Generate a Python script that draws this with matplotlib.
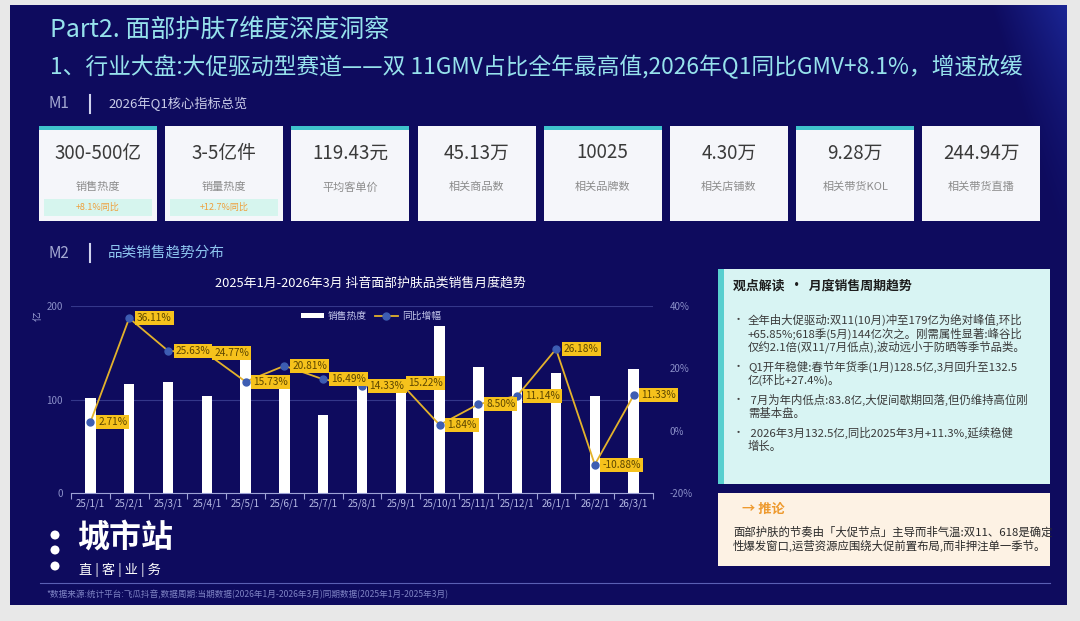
import numpy as np
import matplotlib
matplotlib.use("Agg")
import matplotlib.pyplot as plt
from matplotlib.patches import Rectangle, Circle, Patch
from matplotlib.lines import Line2D

plt.rcParams['font.family'] = ['Noto Sans CJK SC', 'DejaVu Sans']
plt.rcParams['axes.unicode_minus'] = False

# 数据
months = ["25/1/1", "25/2/1", "25/3/1", "25/4/1", "25/5/1", "25/6/1", "25/7/1", "25/8/1",
          "25/9/1", "25/10/1", "25/11/1", "25/12/1", "26/1/1", "26/2/1", "26/3/1"]
sales = [102, 117, 119, 104, 144, 121, 83.8, 116, 108, 179, 135, 124, 128.5, 104, 132.5]
yoy = [2.71, 36.11, 25.63, 24.77, 15.73, 20.81, 16.49, 14.33, 15.22, 1.84, 8.50, 11.14,
       26.18, -10.88, 11.33]

card_values = ["300-500亿", "3-5亿件", "119.43元", "45.13万", "10025", "4.30万", "9.28万", "244.94万"]
card_labels = ["销售热度", "销量热度", "平均客单价", "相关商品数", "相关品牌数", "相关店铺数",
               "相关带货KOL", "相关带货直播"]
card_badges = ["+8.1%同比", "+12.7%同比", None, None, None, None, None, None]

bullets = [
    ["全年由大促驱动:双11(10月)冲至179亿为绝对峰值,环比",
     "+65.85%;618季(5月)144亿次之。刚需属性显著:峰谷比",
     "仅约2.1倍(双11/7月低点),波动远小于防晒等季节品类。"],
    ["Q1开年稳健:春节年货季(1月)128.5亿,3月回升至132.5",
     "亿(环比+27.4%)。"],
    [" 7月为年内低点:83.8亿,大促间歇期回落,但仍维持高位刚",
     "需基本盘。"],
    [" 2026年3月132.5亿,同比2025年3月+11.3%,延续稳健",
     "增长。"],
]
conclusion = ["面部护肤的节奏由「大促节点」主导而非气温:双11、618是确定",
              "性爆发窗口,运营资源应围绕大促前置布局,而非押注单一季节。"]

W, H = 1080, 621
CYAN = '#96E2EC'
LAV = '#9DA2D6'

fig = plt.figure(figsize=(W / 100, H / 100), dpi=100, facecolor='#E8E8E8')

# 背景层(像素坐标)
bg = fig.add_axes([0, 0, 1, 1])
bg.set_xlim(0, W)
bg.set_ylim(H, 0)
bg.axis('off')

sx0, sx1, sy0, sy1 = 10, 1067, 5, 605
yy, xx = np.mgrid[sy0:sy1, sx0:sx1]
edge = 990 + 0.3 * (yy - sy0)
t = np.clip((xx - edge) / 90, 0, 1) * np.clip(1 - (yy - sy0) / 360, 0, 1) * 0.85
base = np.array([14, 11, 94]) / 255
light = np.array([32, 48, 170]) / 255
img = base[None, None, :] * (1 - t[..., None]) + light[None, None, :] * t[..., None]
bg.imshow(img, extent=(sx0, sx1, sy1, sy0), aspect='auto', zorder=0)

# 标题
bg.text(50, 30, "Part2. 面部护肤7维度深度洞察", fontsize=18, color=CYAN, va='center')
bg.text(50, 67, "1、行业大盘:大促驱动型赛道——双 11GMV占比全年最高值,2026年Q1同比GMV+8.1%，增速放缓",
        fontsize=16.4, color=CYAN, va='center')

# M1
bg.text(48, 104, "M1", fontsize=11, color='#A4A9D2', va='center')
bg.plot([90, 90], [95, 113], color='#D0D3EE', lw=1.5)
bg.text(108, 104, "2026年Q1核心指标总览", fontsize=9.5, color='#C9CCE8', va='center')

# 指标卡片
for i in range(len(card_values)):
    x0 = 39 + i * 126.2
    bg.add_patch(Rectangle((x0, 126), 118, 95, fc='#F5F6FA', ec='none', zorder=2))
    if i % 2 == 0:
        bg.add_patch(Rectangle((x0, 126), 118, 4, fc='#3FC3CC', ec='none', zorder=3))
    bg.text(x0 + 59, 153, card_values[i], fontsize=13.5, color='#3A3A3A', ha='center', va='center', zorder=4)
    bg.text(x0 + 59, 187, card_labels[i], fontsize=8, color='#8C8C8C', ha='center', va='center', zorder=4)
    if card_badges[i]:
        bg.add_patch(Rectangle((x0 + 5, 199), 108, 17, fc='#D6F5EE', ec='none', zorder=3))
        bg.text(x0 + 59, 207.5, card_badges[i], fontsize=6.5, color='#EE9F3C', ha='center', va='center', zorder=4)

# M2
bg.text(48, 253, "M2", fontsize=11, color='#A4A9D2', va='center')
bg.plot([90, 90], [244, 262], color='#D0D3EE', lw=1.5)
bg.text(108, 253, "品类销售趋势分布", fontsize=10.5, color='#8DC4EE', va='center')
bg.text(370, 283, "2025年1月-2026年3月 抖音面部护肤品类销售月度趋势", fontsize=9.3,
        color='white', ha='center', va='center')
bg.text(38, 316, "亿", fontsize=7, color=LAV, rotation=90, ha='center', va='center')

# 右侧观点框
bg.add_patch(Rectangle((718, 269), 332, 215, fc='#D8F4F3', ec='none'))
bg.add_patch(Rectangle((718, 269), 6, 215, fc='#58CFCF', ec='none'))
bg.text(733, 286, "观点解读  ·  月度销售周期趋势", fontsize=9.3, color='#1E1E1E',
        weight='bold', va='center')
y = 320
for group in bullets:
    bg.text(733, y, "•", fontsize=8, color='#444444', va='center')
    for line in group:
        bg.text(748, y, line, fontsize=8.2, color='#3A3A3A', va='center')
        y += 13.6
    y += 6

bg.add_patch(Rectangle((718, 493), 332, 73, fc='#FDF2E4', ec='none'))
bg.text(742, 509, "→ 推论", fontsize=9.5, color='#EE9A2E', weight='bold', va='center')
for k, line in enumerate(conclusion):
    bg.text(733, 532 + k * 13.5, line, fontsize=8.2, color='#2A2A2A', va='center')

# 底部
bg.plot([40, 1050], [583, 583], color='#5A5FB4', lw=0.8)
bg.text(46, 595, "*数据来源:统计平台:飞瓜抖音,数据周期:当期数据(2026年1月-2026年3月)同期数据(2025年1月-2025年3月)",
        fontsize=6.2, color='#7E83C4', va='center')

# logo
for cy in (535, 550, 566):
    bg.add_patch(Circle((55, cy), 4.5, fc='white', ec='none'))
bg.text(77, 538, "城市站", fontsize=23, color='white', weight='heavy', va='center')
bg.text(79, 570, "直 | 客 | 业 | 务", fontsize=9.5, color='white', va='center')

# 主图
ax = fig.add_axes([71 / W, 1 - 493 / H, (653 - 71) / W, (493 - 306) / H])
ax.patch.set_alpha(0)
x = np.arange(len(months))
ax.bar(x, sales, width=0.27, color='white', zorder=2)
ax.set_xlim(-0.5, len(months) - 0.5)
ax.set_ylim(0, 200)
ax.set_yticks([0, 100, 200])
ax.grid(axis='y', color='#34378A', lw=0.8)
ax.set_axisbelow(True)
for s in ['top', 'right', 'left']:
    ax.spines[s].set_visible(False)
ax.spines['bottom'].set_color(LAV)
ax.set_xticks(np.arange(-0.5, len(months)), minor=False)
ax.set_xticklabels([])
ax.set_xticks(x, minor=True)
ax.set_xticklabels(months, minor=True)
ax.tick_params(axis='x', which='major', length=4, color=LAV, direction='out')
ax.tick_params(axis='x', which='minor', length=0, pad=4, labelsize=7, labelcolor='#B7BBE6')
ax.tick_params(axis='y', length=0, pad=6, labelsize=7, labelcolor='#8A8FC8')

ax2 = ax.twinx()
ax2.set_ylim(-20, 40)
ax2.set_yticks([-20, 0, 20, 40])
ax2.set_yticklabels(["-20%", "0%", "20%", "40%"])
ax2.tick_params(axis='y', length=0, pad=12, labelsize=7, labelcolor='#8A8FC8')
for s in ax2.spines.values():
    s.set_visible(False)
ax2.plot(x, yoy, color='#E3B22B', lw=1.3, marker='o', markersize=5,
         markerfacecolor='#3D5DB3', markeredgecolor='#3D5DB3', zorder=3)
for i, v in enumerate(yoy):
    ax2.annotate(f"{v:.2f}%", (i, v), xytext=(5.5, 0), textcoords='offset points',
                 ha='left', va='center', fontsize=7.3, color='#5C4500', zorder=5,
                 bbox=dict(boxstyle='square,pad=0.2', fc='#F6C21C', ec='none'))

handles = [Patch(facecolor='white', edgecolor='none', label='销售热度'),
           Line2D([0], [0], color='#E3B22B', lw=1.3, marker='o', markersize=5,
                  markerfacecolor='#3D5DB3', markeredgecolor='#3D5DB3', label='同比增幅')]
ax2.legend(handles=handles, ncol=2, loc='center left', frameon=False,
           bbox_to_anchor=(292 / W, 1 - 316 / H), bbox_transform=fig.transFigure,
           fontsize=7, labelcolor='#C3C6EA', handlelength=2.4, handleheight=0.45,
           columnspacing=0.8, handletextpad=0.4)

fig.savefig("out.png", dpi=100, facecolor=fig.get_facecolor())
